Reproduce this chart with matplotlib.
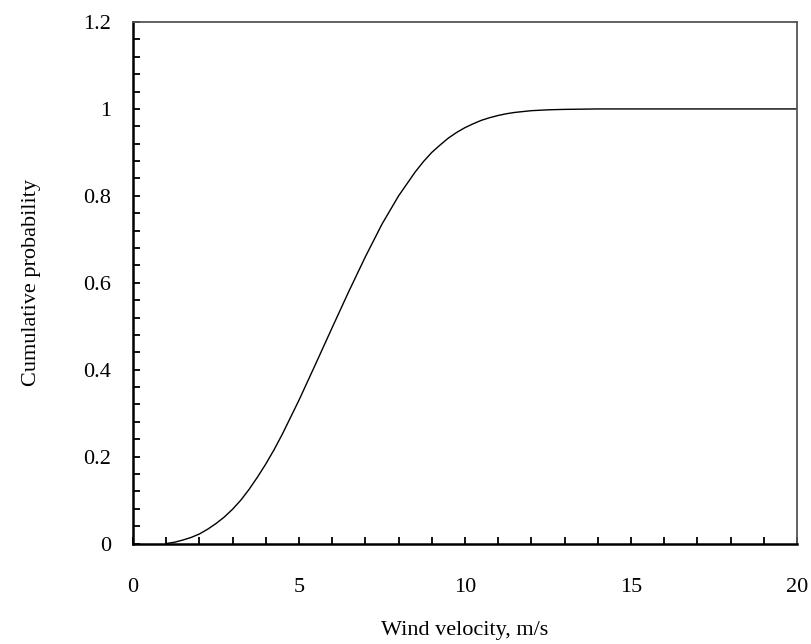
import numpy as np
import matplotlib.pyplot as plt
from matplotlib.ticker import MultipleLocator

# wind speed (m/s) and cumulative probability
velocity = [1.0, 1.25, 1.5, 1.75, 2.0, 2.25, 2.5, 2.75, 3.0, 3.25, 3.5,
            3.75, 4.0, 4.25, 4.5, 5.0, 5.5, 6.0, 6.5, 7.0, 7.5, 8.0, 8.5,
            8.75, 9.0, 9.25, 9.5, 9.75, 10.0, 10.25, 10.5, 10.75, 11.0,
            11.25, 11.5, 11.75, 12.0, 12.25, 12.5, 13.0, 13.5, 14.0, 15.0,
            16.0, 17.0, 18.0, 19.0, 20.0]
cum_prob = [0.0, 0.003, 0.008, 0.014, 0.022, 0.033, 0.046, 0.061, 0.079,
            0.10, 0.125, 0.153, 0.183, 0.216, 0.252, 0.33, 0.413, 0.497,
            0.58, 0.66, 0.735, 0.80, 0.855, 0.879, 0.90, 0.917, 0.933,
            0.946, 0.957, 0.966, 0.974, 0.980, 0.985, 0.989, 0.992, 0.994,
            0.996, 0.997, 0.998, 0.999, 0.9995, 1.0, 1.0, 1.0, 1.0, 1.0,
            1.0, 1.0]

plt.rcParams['font.family'] = ['Liberation Serif', 'DejaVu Serif']

fig = plt.figure(figsize=(8.12, 6.44), dpi=100)
ax = fig.add_axes([0.1638, 0.156, 0.8177, 0.8098])

ax.plot(velocity, cum_prob, color="black", linewidth=1.0)

ax.set_xlim(0, 20)
ax.set_ylim(0, 1.2)
ax.xaxis.set_major_locator(MultipleLocator(5))
ax.xaxis.set_minor_locator(MultipleLocator(1))
ax.yaxis.set_major_locator(MultipleLocator(0.2))
ax.yaxis.set_minor_locator(MultipleLocator(0.04))
ax.yaxis.set_major_formatter(plt.FuncFormatter(lambda v, p: f"{v:g}"))

ax.tick_params(which="both", direction="in", length=5, width=1.3,
               top=False, right=False, labelsize=16)
ax.tick_params(axis="x", which="major", pad=25)
ax.tick_params(axis="y", which="major", pad=16)

for side in ("left", "bottom"):
    ax.spines[side].set_linewidth(1.8)
    ax.spines[side].set_color("black")
for side in ("top", "right"):
    ax.spines[side].set_linewidth(1.3)
    ax.spines[side].set_color("#555555")

ax.set_xlabel("Wind velocity, m/s", fontsize=16, labelpad=17)
ax.set_ylabel("Cumulative probability", fontsize=16, labelpad=30)

fig.savefig("out.png", dpi=100)
